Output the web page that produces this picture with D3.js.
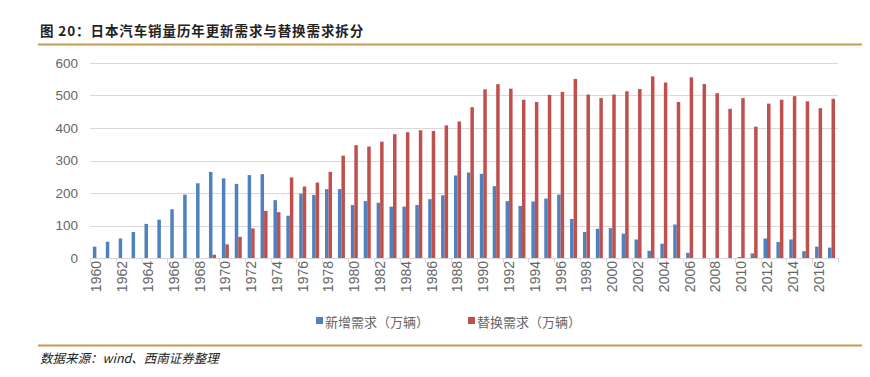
<!DOCTYPE html>
<html>
<head>
<meta charset="utf-8">
<script src="https://cdn.jsdelivr.net/npm/d3@7"></script>
<style>
  body { margin: 0; background: #fff; }
  svg { display: block; font-family: "Liberation Sans", Arial, sans-serif; }
</style>
</head>
<body>
<div id="chart"></div>
<script>
// years 1960..2017
const years = d3.range(1960, 2018).map(String);

// 新增需求（万辆）
const newDemand = [
  35, 50, 60, 80, 105, 118, 150, 195, 230, 265,
  245, 228, 255, 258, 178, 130, 198, 194, 212, 212,
  163, 175, 170, 158, 158, 163, 181, 193, 254, 263,
  259, 221, 175, 160, 174, 183, 195, 120, 80, 90,
  92, 75, 57, 22, 44, 103, 16, 0, 0, 0,
  3, 14, 60, 49, 57, 21, 35, 32
];

// 替换需求（万辆）
const replaceDemand = [
  0, 0, 0, 0, 0, 0, 0, 0, 0, 10,
  42, 65, 91, 145, 141, 248, 220, 232, 265, 315,
  347, 343, 358, 381, 387, 393, 391, 408, 420, 464,
  519, 535, 521, 487, 480, 502, 511, 551, 503, 492,
  503, 513, 520, 559, 540, 480, 556, 535, 507, 459,
  492, 404, 475, 487, 498, 482, 461, 490
];

const seriesNames = ["新增需求（万辆）", "替换需求（万辆）"];
const colors = ["#4F81BD", "#C0504D"];
const yTicks = [0, 100, 200, 300, 400, 500, 600];

const W = 870, H = 377;
const M = { left: 90, right: 32, top: 63, bottom: 119 };
const PW = W - M.left - M.right;
const PH = H - M.top - M.bottom;

const svg = d3.select("#chart").append("svg")
  .attr("width", W).attr("height", H);

// title + rules
svg.append("text")
  .attr("x", 40).attr("y", 36)
  .attr("font-family", "'Noto Sans CJK SC', sans-serif")
  .attr("font-weight", "bold").attr("font-size", 13.5).attr("fill", "#222")
  .attr("letter-spacing", 0.9)
  .text("图 20：日本汽车销量历年更新需求与替换需求拆分");

svg.append("line")
  .attr("x1", 38).attr("x2", 862).attr("y1", 44.5).attr("y2", 44.5)
  .attr("stroke", "#C99A55").attr("stroke-width", 2);

svg.append("line")
  .attr("x1", 38).attr("x2", 862).attr("y1", 345.5).attr("y2", 345.5)
  .attr("stroke", "#C99A55").attr("stroke-width", 2);

svg.append("text")
  .attr("x", 40).attr("y", 363)
  .attr("font-family", "'Noto Sans CJK SC', sans-serif")
  .attr("font-style", "italic").attr("font-size", 12.5).attr("fill", "#222")
  .text("数据来源：wind、西南证券整理");

// scales
const x = d3.scaleBand().domain(years).range([0, PW]).paddingInner(0);
const xs = d3.scaleBand().domain([0, 1]).range([2.9, x.bandwidth() - 3]).padding(0);
const y = d3.scaleLinear().domain([0, 600]).range([PH, 0]);

const g = svg.append("g").attr("transform", `translate(${M.left},${M.top})`);

// gridlines
g.append("g").selectAll("line").data(yTicks.slice(1)).join("line")
  .attr("x1", 0).attr("x2", PW)
  .attr("y1", d => Math.round(y(d)) + 0.5).attr("y2", d => Math.round(y(d)) + 0.5)
  .attr("stroke", "#D9D9D9").attr("stroke-width", 1);

// y axis labels
const yAxis = g.append("g").call(d3.axisLeft(y).tickValues(yTicks).tickSize(0).tickPadding(12));
yAxis.select(".domain").remove();
yAxis.selectAll("text").attr("font-size", 13.5).attr("fill", "#666");

// bars
const rows = years.map((yr, i) => ({ yr, vals: [newDemand[i], replaceDemand[i]] }));
const grp = g.selectAll("g.yr").data(rows).join("g")
  .attr("class", "yr")
  .attr("transform", d => `translate(${x(d.yr)},0)`);

grp.selectAll("rect").data(d => d.vals.map((v, k) => ({ v, k })).filter(o => o.v > 0)).join("rect")
  .attr("x", d => xs(d.k))
  .attr("width", xs.bandwidth())
  .attr("y", d => y(d.v))
  .attr("height", d => PH - y(d.v))
  .attr("fill", d => colors[d.k]);

// x axis
const xAxis = g.append("g").attr("transform", `translate(0,${PH})`)
  .call(d3.axisBottom(x).tickValues(years.filter((d, i) => i % 2 === 0)).tickSize(0).tickPadding(0));
xAxis.select(".domain").attr("stroke", "#D9D9D9");
xAxis.selectAll("text")
  .attr("font-size", 14).attr("fill", "#666")
  .attr("text-anchor", "end")
  .attr("dy", "0.35em")
  .attr("transform", "translate(0,3) rotate(-90)")
  .attr("x", 0).attr("y", 0);

// tick marks on band boundaries, every two years
const tickPos = d3.range(0, years.length + 1, 2).map(i => i * x.step());
xAxis.append("g").selectAll("line").data(tickPos).join("line")
  .attr("x1", d => Math.round(d) + 0.5).attr("x2", d => Math.round(d) + 0.5)
  .attr("y1", 0).attr("y2", 5)
  .attr("stroke", "#D9D9D9");

// legend
const legend = svg.append("g").attr("transform", "translate(316,322)");
const items = [{ x: 0 }, { x: 152 }];
seriesNames.forEach((name, i) => {
  const it = legend.append("g").attr("transform", `translate(${items[i].x},0)`);
  it.append("rect").attr("x", 0).attr("y", -5).attr("width", 7).attr("height", 7).attr("fill", colors[i]);
  it.append("text").attr("x", 9).attr("y", 0).attr("dy", "0.35em")
    .attr("font-family", "'Noto Sans CJK SC', sans-serif")
    .attr("font-size", 13).attr("fill", "#666")
    .text(name);
});
</script>
</body>
</html>
